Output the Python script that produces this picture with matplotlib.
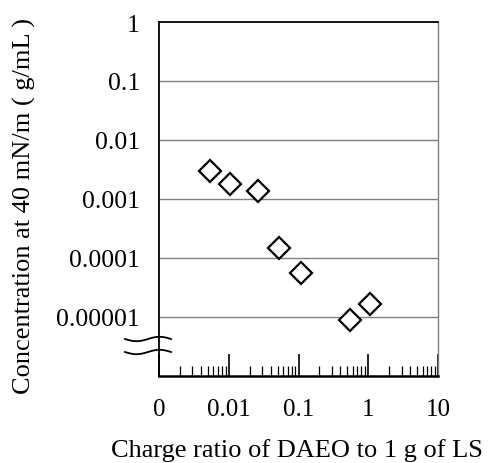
import os
import numpy as np
import matplotlib
matplotlib.use("Agg")
import matplotlib.pyplot as plt
from matplotlib import font_manager
from matplotlib.ticker import FixedLocator, LogLocator, NullFormatter

# pick a Times-like regular serif face from the installed fonts
def find_serif():
    prefs = ["liberationserif-regular", "liberationserif.", "tinos-regular",
             "timesnewroman", "times.", "nimbusroman-regular", "texgyretermes-regular"]
    paths = font_manager.findSystemFonts()
    for key in prefs:
        for p in paths:
            if os.path.basename(p).lower().startswith(key):
                return p
    return None

serif_path = find_serif()
if serif_path:
    font_manager.fontManager.addfont(serif_path)
    fam = font_manager.FontProperties(fname=serif_path).get_name()
else:
    fam = "DejaVu Serif"
plt.rcParams['font.family'] = [fam, 'DejaVu Serif']

# Charge ratio (g DAEO per 1 g LS) and concentration at 40 mN/m (g/mL)
charge_ratio = [0.0053, 0.0104, 0.026, 0.052, 0.107, 0.54, 1.06]
concentration = [0.00297, 0.00182, 0.00135, 0.000150, 0.0000548, 0.0000088, 0.0000167]

x_ticks = [0.001, 0.01, 0.1, 1, 10]
x_tick_labels = ["0", "0.01", "0.1", "1", "10"]
y_ticks = [1, 0.1, 0.01, 0.001, 0.0001, 0.00001]
y_tick_labels = ["1", "0.1", "0.01", "0.001", "0.0001", "0.00001"]

W, H = 488, 464
fig = plt.figure(figsize=(W / 100, H / 100), dpi=100)
ax = fig.add_axes([159 / W, 1 - 377 / H, (438 - 159) / W, (377 - 23) / H])

ax.set_xscale("log")
ax.set_yscale("log")
ax.set_xlim(0.001, 10)
ax.set_ylim(1e-6, 1)

# horizontal grid at each labelled decade
for yv in y_ticks[1:]:
    ax.axhline(yv, color="#808080", lw=1.0, zorder=1)

ax.plot(charge_ratio, concentration, linestyle="none", marker="D",
        markersize=11.5, markerfacecolor="white", markeredgecolor="black",
        markeredgewidth=1.6, zorder=3)

# x axis: tall inward major ticks, short inward minor ticks
ax.xaxis.set_major_locator(FixedLocator(x_ticks))
ax.set_xticklabels(x_tick_labels)
ax.xaxis.set_minor_locator(LogLocator(base=10, subs=np.arange(2, 10), numticks=50))
ax.xaxis.set_minor_formatter(NullFormatter())
ax.tick_params(axis="x", which="major", direction="in", length=16, width=1.2,
               pad=15.5, labelsize=18, color="black")
ax.tick_params(axis="x", which="minor", direction="in", length=7, width=0.9,
               color="black")
ax.tick_params(axis="x", which="both", top=False)

# y axis: labels only, no tick marks
ax.yaxis.set_major_locator(FixedLocator(y_ticks))
ax.set_yticklabels(y_tick_labels)
ax.yaxis.set_minor_locator(FixedLocator([]))
ax.tick_params(axis="y", which="major", length=0, pad=13.7, labelsize=18.5)

ax.spines["left"].set_color("black")
ax.spines["left"].set_linewidth(1.3)
ax.spines["bottom"].set_color("black")
ax.spines["bottom"].set_linewidth(1.8)
ax.spines["top"].set_color("black")
ax.spines["top"].set_linewidth(1.3)
ax.spines["right"].set_color("#808080")
ax.spines["right"].set_linewidth(1.0)

ax.set_xlabel("Charge ratio of DAEO to 1 g of LS", fontsize=19)
ax.xaxis.label.set_va("baseline")
ax.xaxis.set_label_coords(297 / W, 1 - 457 / H, transform=fig.transFigure)

ax.set_ylabel("Concentration at 40 mN/m ( g/mL )", fontsize=19)
ax.yaxis.label.set_va("center")
ax.yaxis.set_label_coords(24 / W, 1 - 206 / H, transform=fig.transFigure)

# axis-break marks on the left spine
xs = np.linspace(125, 171, 60)
for yc in (340, 353):
    ys = yc + 2.2 * np.sin((xs - 125) / 46 * 2 * np.pi)
    fig.add_artist(plt.Line2D(xs / W, 1 - ys / H, color="black", lw=1.3,
                              transform=fig.transFigure))

fig.savefig("out.png", dpi=100)
